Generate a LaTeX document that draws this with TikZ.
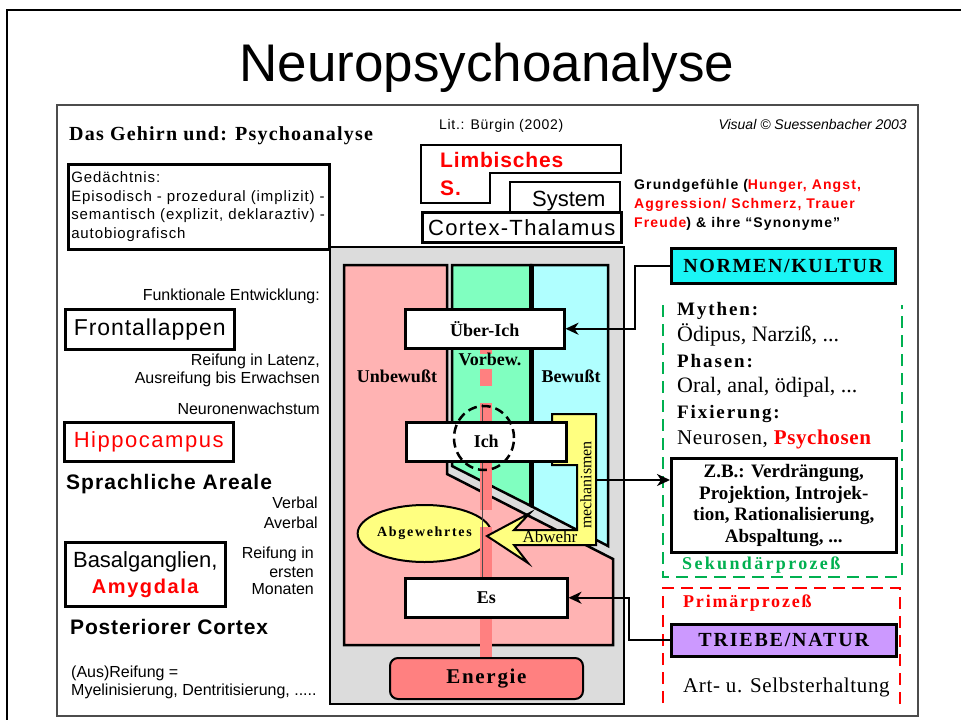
\documentclass[tikz,border=0pt]{standalone}
\usepackage{fontspec}
\setmainfont{Liberation Serif}
\newfontfamily\ar{Liberation Sans}
\usetikzlibrary{arrows.meta,shapes.geometric}
\definecolor{pinkc}{HTML}{FFB3B3}
\definecolor{greenc}{HTML}{80FFC0}
\definecolor{cyanc}{HTML}{B0FFFF}
\definecolor{grayc}{HTML}{DCDCDC}
\definecolor{salmonc}{HTML}{FF8080}
\definecolor{yellowc}{HTML}{FFFF80}
\definecolor{normc}{HTML}{1AF5F5}
\definecolor{lavc}{HTML}{CC99FF}
\definecolor{grn}{HTML}{00B050}
\newcommand\myfs[1]{\fontsize{#1}{#1}\selectfont}
\newcommand\mylsp[1]{\addfontfeature{LetterSpace=#1}}
\begin{document}
\begin{tikzpicture}[x=1pt,y=-1pt,
  every node/.style={inner sep=0pt},
  txt/.style={anchor=base west},
  txtr/.style={anchor=base east},
  txtc/.style={anchor=base},
  box/.style={draw=black,line width=2.5pt,fill=white,anchor=north west},
  barseg/.style={fill=salmonc},
  arr/.style={line width=2.2pt,-{Stealth[length=13pt,width=12pt,inset=4pt]}},
  grdash/.style={draw=grn,line width=2.5pt,dash pattern=on 12pt off 7pt},
  rddash/.style={draw=red,line width=2.5pt,dash pattern=on 12pt off 7pt}]
\fill[white] (0,0) rectangle (961,720);
\useasboundingbox (0,0) rectangle (961,720);
% frames
\draw[line width=2.5pt] (7,720) -- (7,10) -- (961,10);
\draw[line width=1.2pt,black!70] (57,105) rectangle (918,716);
% title
\node[txtc] (title) at (487,81) {\ar\myfs{53}Neuropsychoanalyse};
\node[txt] (hdr) at (69,140) {\bfseries\myfs{20}\mylsp{6}Das Gehirn und: Psychoanalyse};
\node[txt] (lit) at (439,129) {\ar\myfs{14}\mylsp{5}Lit.: Bürgin (2002)};
\node[txtr] (vis) at (907,129) {\ar\itshape\myfs{14}Visual © Suessenbacher 2003};
% Gedaechtnis
\node[box,minimum width=261,minimum height=85,text width=255,align=left,
  font={\ar\fontsize{15}{18.5}\selectfont\addfontfeature{LetterSpace=6}}] (ged) at (67,163)
  {Gedächtnis:\\Episodisch - prozedural (implizit) -\\semantisch (explizit, deklaraztiv) -\\autobiografisch};
% Limbisches / System / Cortex
\draw[line width=2.5pt,fill=white] (421,145) -- (621,145) -- (621,173) -- (490,173) -- (490,203) -- (421,203) -- cycle;
\draw[line width=2.5pt] (510,211) -- (510,182) -- (620,182) -- (620,211);
\node[box,minimum width=199,minimum height=30] (ctx) at (421,211) {\ar\myfs{22}\mylsp{6}Cortex-Thalamus};
\node[txt] (limb) at (440,167) {\ar\bfseries\color{red}\myfs{21}\mylsp{4}Limbisches};
\node[txt] (limbs) at (440,195) {\ar\bfseries\color{red}\myfs{21}\mylsp{4}S.};
\node[txt] (sys) at (532,206) {\ar\myfs{22}System};
% Grundgefuehle
\node[txt] (gr1) at (634,189) {\ar\bfseries\myfs{14}\mylsp{8}Grundgefühle (\textcolor{red}{Hunger, Angst,}};
\node[txt] (gr2) at (634,208) {\ar\bfseries\myfs{14}\mylsp{8}\textcolor{red}{Aggression/ Schmerz, Trauer}};
\node[txt] (gr3) at (634,227) {\ar\bfseries\myfs{14}\mylsp{8}\textcolor{red}{Freude}) \& ihre “Synonyme”};
% left column
\node[txtr] (funk) at (320,300) {\ar\myfs{16}Funktionale Entwicklung:};
\node[box,minimum width=169,minimum height=40] (front) at (64,308) {\ar\myfs{23}\mylsp{4}Frontallappen};
\node[txtr] (reif1) at (320,365) {\ar\myfs{16}Reifung in Latenz,};
\node[txtr] (reif2) at (320,383) {\ar\myfs{16}Ausreifung bis Erwachsen};
\node[txtr] (neur) at (320,414) {\ar\myfs{16}Neuronenwachstum};
\node[box,minimum width=169,minimum height=39] (hippo) at (63,421) {\ar\myfs{22}\mylsp{7}\color{red}Hippocampus};
\node[txt] (sprach) at (66,489) {\ar\bfseries\myfs{21}\mylsp{5}Sprachliche Areale};
\node[txtr] (verb) at (318,508) {\ar\myfs{16}Verbal};
\node[txtr] (averb) at (318,528) {\ar\myfs{16}Averbal};
\node[box,minimum width=160,minimum height=64,align=center,font={\ar\fontsize{22}{26}\selectfont}] (basal) at (64,541)
  {Basalganglien,\\{\bfseries\color{red}\fontsize{20}{26}\selectfont\addfontfeature{LetterSpace=8}Amygdala}};
\node[txtr] (rm1) at (314,558) {\ar\myfs{16}Reifung in};
\node[txtr] (rm2) at (314,577) {\ar\myfs{16}ersten};
\node[txtr] (rm3) at (314,594) {\ar\myfs{16}Monaten};
\node[txt] (post) at (70,634) {\ar\bfseries\myfs{21}\mylsp{4}Posteriorer Cortex};
\node[txt] (aus1) at (71,677) {\ar\myfs{16}(Aus)Reifung =};
\node[txt] (aus2) at (71,695) {\ar\myfs{16}Myelinisierung, Dentritisierung, .....};
% central panel
\draw[line width=2pt,fill=grayc] (330,247) rectangle (624,704);
\draw[line width=2.5pt,fill=pinkc] (344,265) -- (447,265) -- (447,474) -- (613,559) -- (613,645) -- (344,645) -- cycle;
\draw[line width=2.5pt,fill=greenc] (452,265) -- (531,265) -- (531,506) -- (452,466) -- cycle;
\draw[line width=2.5pt,fill=cyanc] (531,265) -- (608,265) -- (608,546) -- (531,506) -- cycle;
\draw[line width=5pt] (531,265) -- (531,506);
% dashed energy bar
\fill[barseg] (480,347) rectangle (492,354);
\fill[barseg] (480,369) rectangle (492,386);
\fill[barseg] (480,403) rectangle (492,510);
\node[draw,line width=2pt,fill=yellowc,ellipse,minimum width=119,minimum height=57] (abg) at (424.5,533.5)
  {\bfseries\myfs{14}\mylsp{12}Abgewehrtes};
\fill[barseg] (480,527) rectangle (492,577);
\fill[barseg] (480,615) rectangle (492,657);
\draw[line width=0.8pt,black!70] (482,404) -- (482,577);
% Abwehr-mechanismen
\draw[line width=2pt,fill=yellowc] (487,536) -- (530,513) -- (514,530) -- (577,530) -- (577,465) -- (552,465)
  -- (552,414) -- (596,414) -- (596,545) -- (514,545) -- (528,563) -- cycle;
\node[rotate=90] (mech) at (586,485) {\myfs{16}mechanismen};
\node[txtc] (abw) at (550,542) {\myfs{17}Abwehr};
% instance boxes
\node[box,minimum width=159,minimum height=39] (ueber) at (404,308) {\bfseries\myfs{18}Über-Ich};
\node[box,minimum width=160,minimum height=39] (ich) at (405,421) {\bfseries\myfs{18}Ich};
\node[draw,ellipse,dashed,line width=2.5pt,dash pattern=on 9pt off 5pt,minimum width=60,minimum height=64] (ichring) at (484,438) {};
\node[box,minimum width=162,minimum height=39] (es) at (404,577) {\bfseries\myfs{18}Es};
\node[box,fill=salmonc,rounded corners=8pt,line width=2pt,minimum width=193,minimum height=41] (energie) at (389,657)
  {\bfseries\myfs{21}\mylsp{8}Energie};
\node[txtc] (unb) at (397,382) {\bfseries\myfs{18}Unbewußt};
\node[txtc] (vorb) at (490,365) {\bfseries\myfs{18}Vorbew.};
\node[txtc] (bew) at (571,382) {\bfseries\myfs{18}Bewußt};
% right side
\node[box,fill=normc,minimum width=224,minimum height=35] (norm) at (670,247) {\bfseries\myfs{20}\mylsp{8}NORMEN/KULTUR};
\draw[grdash] (663,305) -- (663,577) -- (902,577) -- (902,305);
\draw[rddash] (663,703) -- (663,588) -- (900,588) -- (900,705);
\node[txt] (myth) at (677,315) {\bfseries\myfs{19}\mylsp{10}Mythen:};
\node[txt] (myth2) at (677,341) {\myfs{22}Ödipus, Narziß, ...};
\node[txt] (phas) at (677,367) {\bfseries\myfs{19}\mylsp{10}Phasen:};
\node[txt] (phas2) at (677,392) {\myfs{22}Oral, anal, ödipal, ...};
\node[txt] (fix) at (677,418) {\bfseries\myfs{19}\mylsp{10}Fixierung:};
\node[txt] (fix2) at (677,444) {\myfs{21}\mylsp{3}Neurosen, \textcolor{red}{\bfseries Psychosen}};
\node[box,minimum width=225,minimum height=94,align=center,font={\bfseries\fontsize{19}{21.5}\selectfont}] (zb) at (670,457)
  {Z.B.: Verdrängung,\\Projektion, Introjek-\\tion, Rationalisierung,\\Abspaltung, ...};
\node[txt] (sek) at (682,569) {\bfseries\myfs{18}\mylsp{13}\color{grn}Sekundärprozeß};
\node[txt] (prim) at (683,607) {\bfseries\myfs{18}\mylsp{10}\color{red}Primärprozeß};
\node[box,fill=lavc,minimum width=225,minimum height=32] (triebe) at (670,623) {\bfseries\myfs{20}\mylsp{9}TRIEBE/NATUR};
\node[txt] (art) at (683,692) {\myfs{21}\mylsp{3}Art- u. Selbsterhaltung};
% connectors
\draw[arr] (norm.west) -- ++(-35,0) |- (ueber.east);
\coordinate (mechR) at (596,480);
\draw[arr] (mechR) -- (mechR -| zb.west);
\draw[arr] (triebe.west) -- ++(-41,0) |- (es.east);
\end{tikzpicture}
\end{document}
